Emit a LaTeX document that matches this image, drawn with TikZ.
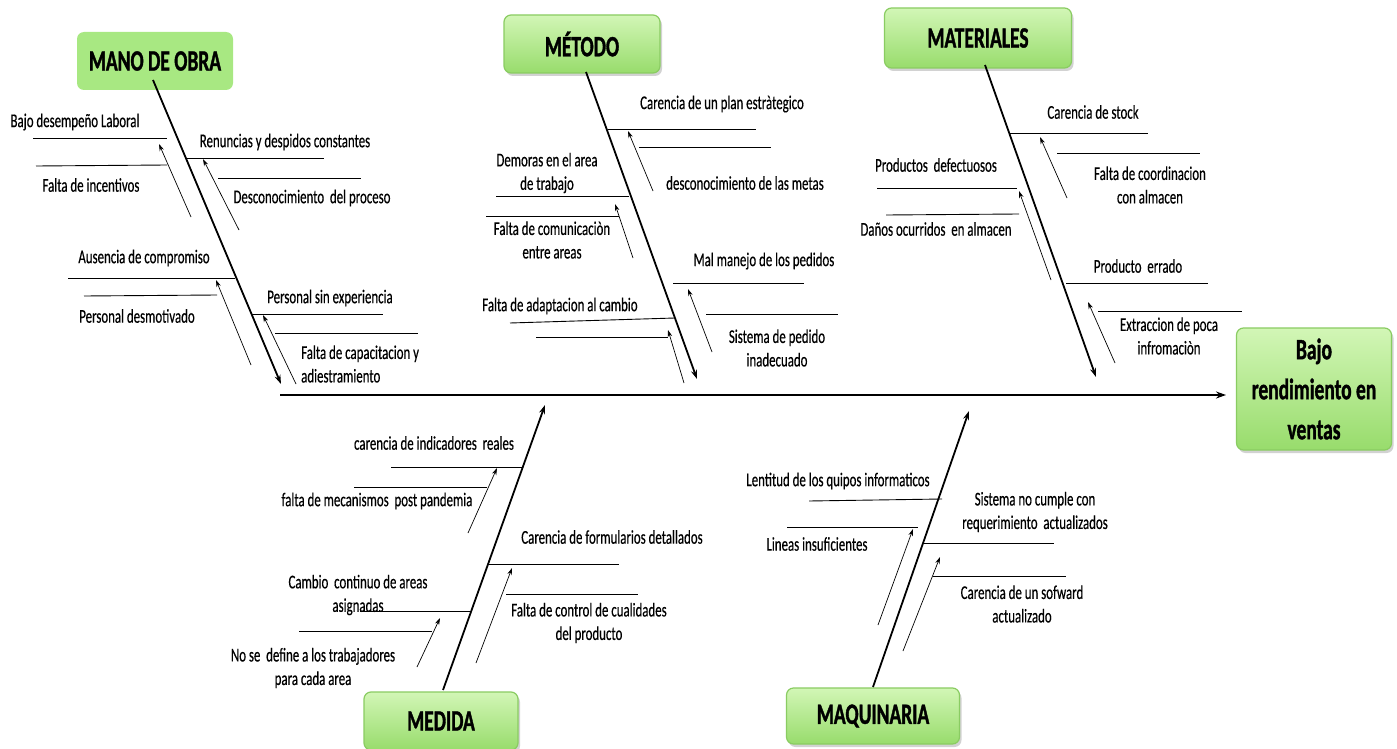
\documentclass[tikz,border=0pt]{standalone}
\usepackage{fontspec}
\setmainfont{Carlito}[FakeStretch=0.66]
\usetikzlibrary{arrows.meta,shadows}
\definecolor{catflat}{RGB}{168,232,130}
\definecolor{cattop}{RGB}{210,246,182}
\definecolor{catbot}{RGB}{152,220,108}
\definecolor{catrim}{RGB}{138,204,98}
\tikzset{
  catbox/.style={rounded corners=7pt, inner sep=0pt, align=center,
    font=\fontsize{29.5}{40}\selectfont\bfseries\addfontfeature{FakeBold=1.2}},
  flatbox/.style={catbox, fill=catflat},
  gradbox/.style={catbox, top color=cattop, bottom color=catbot, draw=catrim,
    line width=1.2pt, drop shadow={shadow xshift=2pt, shadow yshift=-3pt, opacity=0.35}},
  lbl/.style={inner sep=0pt, align=center,
    font=\fontsize{19.5}{23.5}\selectfont\addfontfeature{FakeBold=0.4}},
  spine/.style={line width=2.6pt, -{Stealth[length=10pt,width=7pt]}},
  bone/.style={line width=1.8pt, -{Stealth[length=9pt,width=6pt]}},
  twig/.style={line width=0.9pt},
  cause/.style={line width=0.7pt, -{Stealth[length=7pt,width=4.5pt]}},
}
\begin{document}
\begin{tikzpicture}[x=1pt,y=-1pt]
\fill[white] (0,0) rectangle (1397,749);
\useasboundingbox (0,0) rectangle (1397,749);

% ---------- category boxes and effect ----------
\node[flatbox, minimum width=156pt, minimum height=58pt] (mano) at (155,61) {MANO DE OBRA};
\node[gradbox, minimum width=156pt, minimum height=58pt] (metodo) at (582,44) {MÉTODO};
\node[gradbox, minimum width=187pt, minimum height=60pt] (materiales) at (978,38) {MATERIALES};
\node[gradbox, minimum width=155pt, minimum height=122pt] (efecto) at (1314,389) {Bajo\\rendimiento en\\ventas};
\node[gradbox, minimum width=154pt, minimum height=58pt] (medida) at (441,721) {MEDIDA};
\node[gradbox, minimum width=173pt, minimum height=56pt] (maquinaria) at (873,716) {MAQUINARIA};

% ---------- spine ----------
\coordinate (spineStart) at (280,395);
\coordinate (spineEnd) at (1226,395);
\draw[spine] (spineStart) -- (spineEnd);

% ---------- main bones ----------
\coordinate (manoA) at (153,80);   \coordinate (manoB) at (281,384);
\coordinate (metA) at (586,72);    \coordinate (metB) at (697,379);
\coordinate (matA) at (985,65);    \coordinate (matB) at (1096,377);
\coordinate (medA) at (443,690);   \coordinate (medB) at (545,405);
\coordinate (maqA) at (873,687);   \coordinate (maqB) at (969,411);
\draw[bone] (manoA) -- (manoB);
\draw[bone] (metA) -- (metB);
\draw[bone] (matA) -- (matB);
\draw[bone] (medA) -- (medB);
\draw[bone] (maqA) -- (maqB);

% ---------- MANO DE OBRA ----------
\node[lbl] (m1) at (75,122) {Bajo desempeño Laboral};
\node[lbl] (m2) at (91,185) {Falta de incentivos};
\node[lbl] (m3) at (285,142) {Renuncias y despidos constantes};
\node[lbl] (m4) at (312,198) {Desconocimiento\ \ del proceso};
\node[lbl] (m5) at (144,258) {Ausencia de compromiso};
\node[lbl] (m6) at (137,316) {Personal desmotivado};
\node[lbl] (m7) at (330,298) {Personal sin experiencia};
\node[lbl, align=left, anchor=west] (m8) at (301,364) {Falta de capacitacion y\\adiestramiento};
\draw[twig] (33,138) -- (167,138);
\draw[twig] (36,166) -- (167,165);
\draw[cause] (191,217) -- (159,144);
\draw[twig] (187,158) -- (324,158);
\draw[twig] (218,178) -- (361,178);
\draw[cause] (239,230) -- (203,159);
\draw[twig] (68,278) -- (235,278);
\draw[twig] (84,296) -- (217,295);
\draw[cause] (251,365) -- (216,280);
\draw[twig] (251,314) -- (383,314);
\draw[twig] (275,333) -- (418,333);
\draw[cause] (296,384) -- (263,315);

% ---------- MÉTODO ----------
\node[lbl] (t1) at (722,104) {Carencia de un plan estràtegico};
\node[lbl] (t2) at (745,183) {desconocimiento de las metas};
\node[lbl] (t3) at (547,173) {Demoras en el area\\de trabajo};
\node[lbl] (t4) at (552,240) {Falta de comunicaciòn\\entre areas};
\node[lbl] (t5) at (764,261) {Mal manejo de los pedidos};
\node[lbl] (t6) at (777,348) {Sistema de pedido\\inadecuado};
\node[lbl] (t7) at (560,306) {Falta de adaptacion al cambio};
\draw[twig] (608,129) -- (756,129);
\draw[twig] (639,147) -- (771,147);
\draw[cause] (653,191) -- (628,131);
\draw[twig] (496,196) -- (629,196);
\draw[twig] (486,216) -- (619,216);
\draw[cause] (633,258) -- (615,204);
\draw[twig] (673,283) -- (804,283);
\draw[twig] (706,314) -- (838,314);
\draw[cause] (712,352) -- (688,289);
\draw[twig] (510,323) -- (675,318);
\draw[twig] (536,337) -- (668,337);
\draw[cause] (684,383) -- (668,330);

% ---------- MATERIALES ----------
\node[lbl] (a1) at (1093,112) {Carencia de stock};
\node[lbl] (a2) at (1150,185) {Falta de coordinacion\\con almacen};
\node[lbl] (a3) at (936,165) {Productos\ \ defectuosos};
\node[lbl] (a4) at (936,229) {Daños ocurridos\ \ en almacen};
\node[lbl] (a5) at (1138,266) {Producto\ \ errado};
\node[lbl] (a6) at (1169,336) {Extraccion de poca\\infromaciòn};
\draw[twig] (1010,133) -- (1148,133);
\draw[twig] (1057,153) -- (1200,153);
\draw[cause] (1067,198) -- (1040,137);
\draw[twig] (877,188) -- (1017,188);
\draw[twig] (886,215) -- (1019,214);
\draw[cause] (1051,280) -- (1019,191);
\draw[twig] (1066,283) -- (1208,283);
\draw[twig] (1098,311) -- (1242,311);
\draw[cause] (1115,363) -- (1088,302);

% ---------- MEDIDA ----------
\node[lbl] (d1) at (434,443) {carencia de indicadores\ \ reales};
\node[lbl] (d2) at (377,501) {falta de mecanismos\ \ post pandemia};
\node[lbl] (d3) at (612,537) {Carencia de formularios detallados};
\node[lbl] (d4) at (589,623) {Falta de control de cualidades\\del producto};
\node[lbl] (d5) at (358,595) {Cambio\ \ continuo de areas\\asignadas};
\node[lbl] (d6) at (313,668) {No se\ \ define a los trabajadores\\para cada area};
\draw[twig] (391,467) -- (523,467);
\draw[twig] (354,487) -- (487,487);
\draw[cause] (468,533) -- (497,468);
\draw[twig] (488,564) -- (619,564);
\draw[twig] (506,594) -- (638,594);
\draw[cause] (476,663) -- (512,568);
\draw[twig] (360,611) -- (470,611);
\draw[twig] (299,631) -- (432,631);
\draw[cause] (417,667) -- (440,618);

% ---------- MAQUINARIA ----------
\node[lbl] (q1) at (838,481) {Lentitud de los quipos informaticos};
\node[lbl] (q2) at (817,544) {Lineas insuficientes};
\node[lbl] (q3) at (1035,512) {Sistema no cumple con\\requerimiento\ \ actualizados};
\node[lbl] (q4) at (1022,604) {Carencia de un sofward\\actualizado};
\draw[twig] (809,501) -- (942,499);
\draw[twig] (787,527) -- (918,527);
\draw[cause] (878,625) -- (913,529);
\draw[twig] (924,543) -- (1054,543);
\draw[twig] (933,576) -- (1066,576);
\draw[cause] (903,651) -- (940,557);
\end{tikzpicture}
\end{document}
